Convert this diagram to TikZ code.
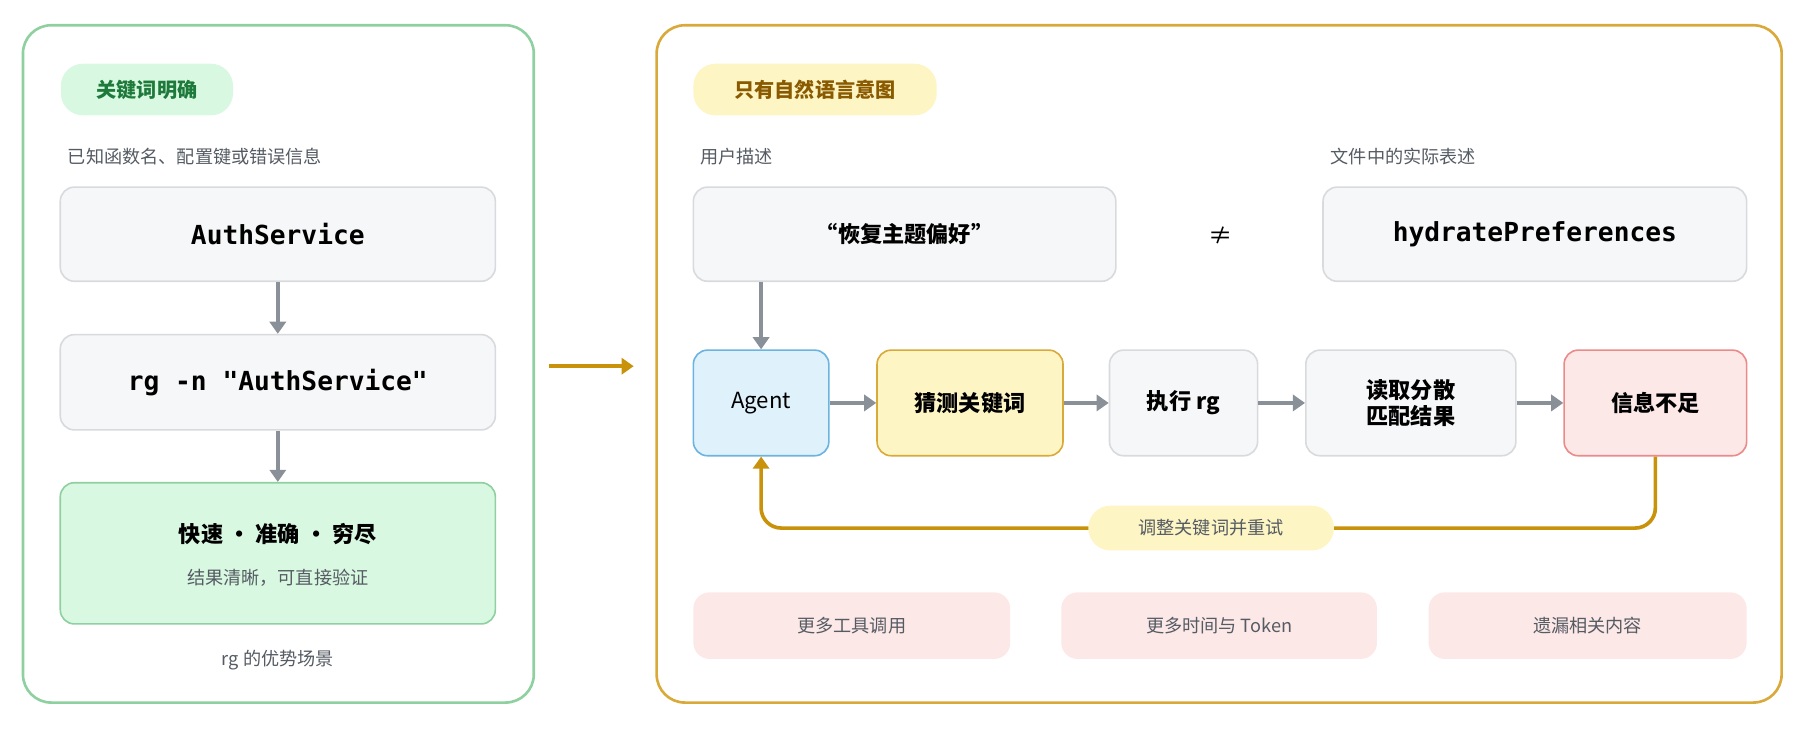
\documentclass[tikz,border=0pt]{standalone}
\usepackage{fontspec}
\setmainfont{Noto Sans CJK SC}
\setmonofont{DejaVu Sans Mono}
\usetikzlibrary{arrows.meta,positioning}
\definecolor{grnline}{HTML}{8FD0A0}
\definecolor{grnfill}{HTML}{D9F8E2}
\definecolor{grntext}{HTML}{1E7A3A}
\definecolor{goldline}{HTML}{D9A93A}
\definecolor{goldarr}{HTML}{C8920A}
\definecolor{yelfill}{HTML}{FDF5C4}
\definecolor{yeltext}{HTML}{8A5A00}
\definecolor{gryfill}{HTML}{F6F7F8}
\definecolor{gryline}{HTML}{D8DADD}
\definecolor{arrgray}{HTML}{8A9098}
\definecolor{bluefill}{HTML}{DFF1FB}
\definecolor{blueline}{HTML}{6CB4E0}
\definecolor{redfill}{HTML}{FDE8E8}
\definecolor{redline}{HTML}{EC8A8A}
\definecolor{txtgray}{HTML}{555B63}
\newcommand{\codetext}[1]{{\fontsize{13}{15}\selectfont\ttfamily #1}}
\begin{document}
\begin{tikzpicture}[x=0.02cm,y=-0.02cm,>={Triangle[length=6pt,width=8pt]}]

  \tikzstyle{panel}=[draw,line width=1.3pt,rounded corners=14pt]
  \tikzstyle{box}=[draw=gryline,fill=gryfill,rounded corners=7pt,line width=0.8pt,font=\fontsize{11}{13}\selectfont\bfseries]
  \tikzstyle{pill}=[rounded corners=11pt,inner sep=0pt,font=\fontsize{10}{12}\selectfont\bfseries]
  \tikzstyle{note}=[font=\fontsize{9}{11}\selectfont,text=txtgray]
  \tikzstyle{flow}=[->,arrgray,line width=2.2pt]

  \useasboundingbox (0,0) rectangle (1568,646);

  % left panel
  \draw [panel,draw=grnline] (20,22) rectangle (465,612);
  \node [pill,fill=grnfill,text=grntext,minimum width=150*0.02cm,minimum height=45*0.02cm] (tagL) at (128,78) {关键词明确};
  \node [note,anchor=west] (known) at (53,136) {已知函数名、配置键或错误信息};
  \node [box,minimum width=379*0.02cm,minimum height=82*0.02cm] (auth) at (242,204) {\codetext{AuthService}};
  \node [box,minimum width=379*0.02cm,minimum height=83*0.02cm] (rg) at (242,333) {\codetext{rg -n "AuthService"}};
  \node [box,draw=grnline,fill=grnfill,minimum width=379*0.02cm,minimum height=123*0.02cm] (good) at (242,482) {};
  \node [font=\fontsize{11}{13}\selectfont\bfseries] (goodt) at (242,465) {快速 · 准确 · 穷尽};
  \node [note] (goods) at (242,503) {结果清晰，可直接验证};
  \node [note] (capL) at (242,575) {rg 的优势场景};
  \draw [flow] (auth) -- (rg);
  \draw [flow] (rg) -- (good);

  % middle arrow
  \coordinate (m1) at (478,319);
  \coordinate (m2) at (552,319);
  \draw [->,goldarr,line width=1.8pt] (m1) -- (m2);

  % right panel
  \draw [panel,draw=goldline] (572,22) rectangle (1552,612);
  \node [pill,fill=yelfill,text=yeltext,minimum width=212*0.02cm,minimum height=45*0.02cm] (tagR) at (710,78) {只有自然语言意图};
  \node [note,anchor=west] (user) at (604,136) {用户描述};
  \node [note,anchor=west] (file) at (1153,136) {文件中的实际表述};
  \node [box,minimum width=368*0.02cm,minimum height=82*0.02cm] (desc) at (788,204) {“恢复主题偏好”};
  \node [font=\fontsize{12}{14}\selectfont] (neq) at (1063,205) {≠};
  \node [box,minimum width=369*0.02cm,minimum height=82*0.02cm] (hyd) at (1337,204) {\codetext{hydratePreferences}};

  \node [box,draw=blueline,fill=bluefill,font=\fontsize{11}{13}\selectfont,minimum width=118*0.02cm,minimum height=92*0.02cm] (agent) at (663,351) {Agent};
  \node [box,draw=goldline,fill=yelfill,minimum width=162*0.02cm,minimum height=92*0.02cm] (guess) at (845,351) {猜测关键词};
  \node [box,minimum width=129*0.02cm,minimum height=92*0.02cm] (exec) at (1031,351) {执行 rg};
  \node [box,align=center,minimum width=183*0.02cm,minimum height=92*0.02cm] (read) at (1229,351) {读取分散\\匹配结果};
  \node [box,draw=redline,fill=redfill,minimum width=159*0.02cm,minimum height=92*0.02cm] (lack) at (1442,351) {信息不足};

  \draw [flow] (desc.south -| agent) -- (agent.north);
  \draw [flow] (agent) -- (guess);
  \draw [flow] (guess) -- (exec);
  \draw [flow] (exec) -- (read);
  \draw [flow] (read) -- (lack);

  \coordinate (loopR) at (1442,460);
  \coordinate (loopL) at (663,460);
  \draw [->,goldarr,line width=1.8pt,rounded corners=10pt] (lack.south) -- (loopR) -- (loopL) -- (agent.south);
  \node [pill,fill=yelfill,text=txtgray,font=\fontsize{9}{11}\selectfont,minimum width=214*0.02cm,minimum height=39*0.02cm] (retry) at (1055,460) {调整关键词并重试};

  \node [pill,fill=redfill,note,minimum width=276*0.02cm,minimum height=58*0.02cm,rounded corners=8pt] (c1) at (742,545) {更多工具调用};
  \node [pill,fill=redfill,note,minimum width=275*0.02cm,minimum height=58*0.02cm,rounded corners=8pt] (c2) at (1062,545) {更多时间与 Token};
  \node [pill,fill=redfill,note,minimum width=277*0.02cm,minimum height=58*0.02cm,rounded corners=8pt] (c3) at (1383,545) {遗漏相关内容};
\end{tikzpicture}
\end{document}
